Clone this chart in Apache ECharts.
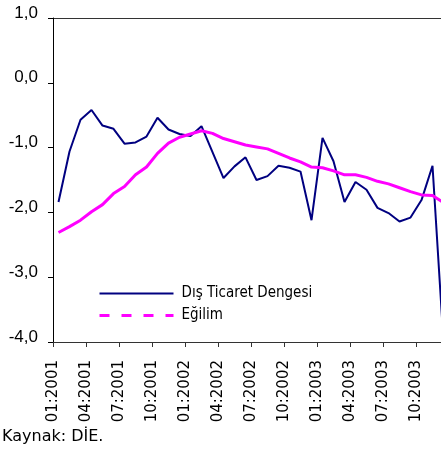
<!DOCTYPE html>
<html>
<head>
<meta charset="utf-8">
<script src="https://cdn.jsdelivr.net/npm/echarts@6/dist/echarts.min.js"></script>
<style>html,body{margin:0;padding:0;background:#fff;}#c{width:441px;height:452px;}</style>
</head>
<body>
<div id="c"></div>
<script>
// Months 01:2001 .. 12:2003
var months = ['01:2001','02:2001','03:2001','04:2001','05:2001','06:2001','07:2001','08:2001','09:2001','10:2001','11:2001','12:2001',
              '01:2002','02:2002','03:2002','04:2002','05:2002','06:2002','07:2002','08:2002','09:2002','10:2002','11:2002','12:2002',
              '01:2003','02:2003','03:2003','04:2003','05:2003','06:2003','07:2003','08:2003','09:2003','10:2003','11:2003','12:2003'];
// Dış Ticaret Dengesi
var balance = [-1.84,-1.06,-0.57,-0.42,-0.66,-0.71,-0.94,-0.92,-0.83,-0.54,-0.72,-0.79,
               -0.82,-0.67,-1.07,-1.47,-1.29,-1.15,-1.50,-1.44,-1.28,-1.31,-1.37,-2.12,
               -0.85,-1.21,-1.84,-1.53,-1.65,-1.93,-2.01,-2.14,-2.08,-1.81,-1.28,-4.0];
// Eğilim
var trend = [-2.31,-2.22,-2.12,-1.99,-1.88,-1.71,-1.60,-1.42,-1.30,-1.09,-0.93,-0.84,
             -0.79,-0.74,-0.78,-0.86,-0.91,-0.96,-0.99,-1.02,-1.09,-1.16,-1.22,-1.30,
             -1.31,-1.36,-1.42,-1.42,-1.46,-1.52,-1.56,-1.62,-1.68,-1.73,-1.74,-1.85];
// tick labels sit on month boundaries (one extra boundary at the end)
var tickLabels = months.concat(['']);
var seriesNames = ['Dış Ticaret Dengesi', 'Eğilim'];
var sourceText = 'Kaynak: DİE.';

var chart = echarts.init(document.getElementById('c'), null, {renderer: 'canvas'});
var lblFont = 'DejaVu Sans';
var clear = 'rgba(0,0,0,0)';
chart.setOption({
  animation: false,
  backgroundColor: '#fff',
  grid: {left: 53, top: 18, width: 396, bottom: 110, show: false, outerBoundsMode: 'none', containLabel: false},
  legend: {
    orient: 'vertical', left: 98, top: 286, padding: 0, itemWidth: 74, itemHeight: 14, itemGap: 7,
    itemStyle: {opacity: 0},
    textStyle: {fontFamily: '"DejaVu Sans Condensed", "DejaVu Sans"', fontSize: 15, color: '#000', padding: [0,0,0,3]},
    data: [
      {name: seriesNames[0], itemStyle: {opacity: 0}},
      {name: seriesNames[1], itemStyle: {opacity: 0}, lineStyle: {type: [10, 12], width: 3}}
    ]
  },
  xAxis: [
    {type: 'category', data: months, boundaryGap: true, show: false},
    {type: 'category', data: tickLabels, boundaryGap: false, position: 'bottom',
     axisLine: {show: false, onZero: false}, axisTick: {show: false},
     axisLabel: {interval: 2, rotate: 90, margin: 18, fontFamily: lblFont, fontSize: 15, color: '#000'}},
    {type: 'category', data: tickLabels, boundaryGap: false, position: 'bottom',
     axisLine: {show: true, onZero: true, lineStyle: {color: '#333', width: 1}},
     axisTick: {show: true, interval: 2, length: 5, lineStyle: {color: '#333'}},
     axisLabel: {show: false}}
  ],
  yAxis: {
    type: 'value', min: -4, max: 1, interval: 1,
    axisLine: {show: true, onZero: false, lineStyle: {color: '#000', width: 1}},
    axisTick: {show: true, length: 5, lineStyle: {color: '#000'}},
    splitLine: {show: true, lineStyle: {width: 1, color: ['#333', clear, clear, clear, clear, '#333']}},
    axisLabel: {margin: 15, fontFamily: '"Liberation Sans", Arial', fontSize: 17, color: '#000',
      verticalAlign: 'bottom', lineHeight: 10,
      formatter: function (v) { return v.toFixed(1).replace('.', ','); }}
  },
  series: [
    {name: seriesNames[0], type: 'line', xAxisIndex: 0, data: balance, symbol: 'none',
     lineStyle: {color: '#000080', width: 2}, itemStyle: {color: '#000080'}},
    {name: seriesNames[1], type: 'line', xAxisIndex: 0, data: trend, symbol: 'none',
     lineStyle: {color: '#FF00FF', width: 3}, itemStyle: {color: '#FF00FF'}}
  ],
  graphic: [
    {type: 'text', left: 2, top: 429, style: {text: sourceText, fontFamily: lblFont, fontSize: 16, fill: '#000'}}
  ]
});
</script>
</body>
</html>
